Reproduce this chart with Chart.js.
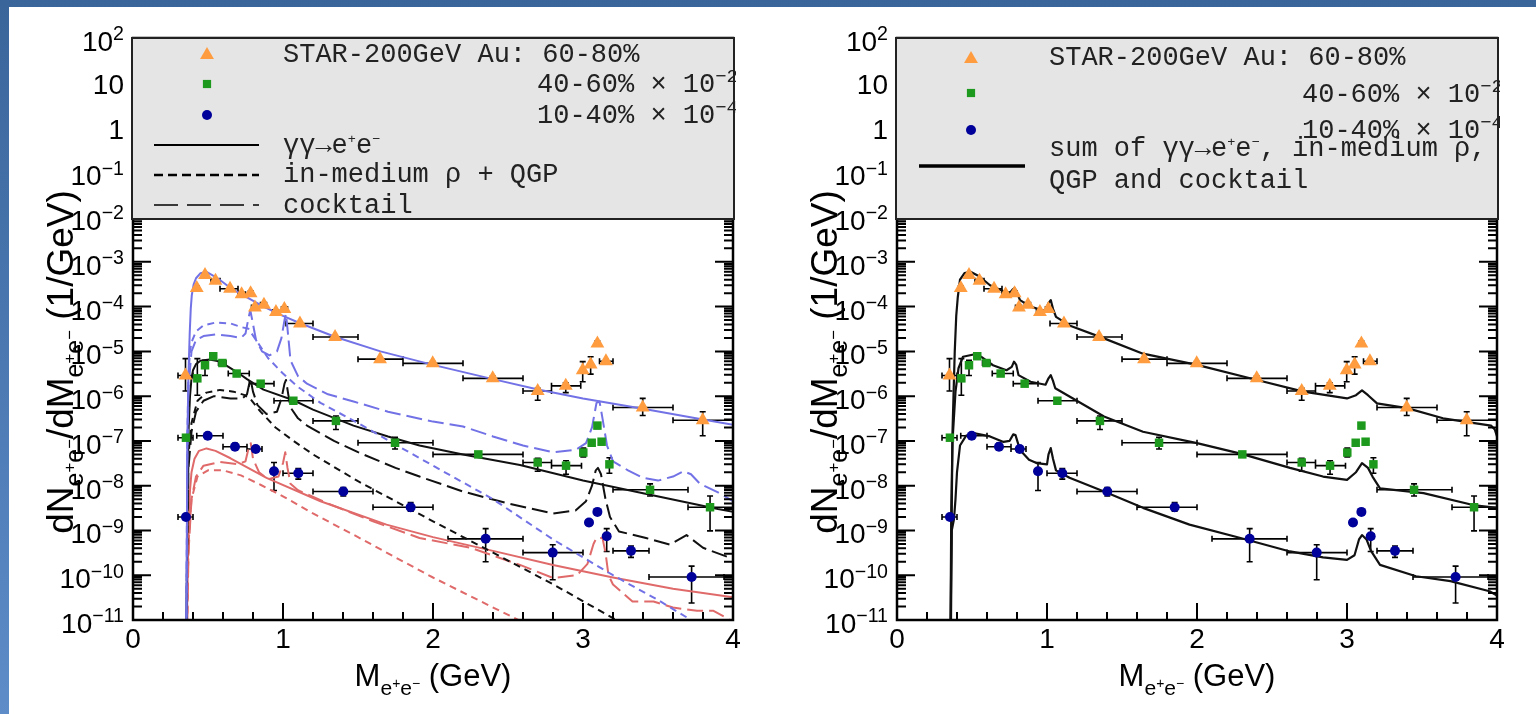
<!DOCTYPE html>
<html>
<head>
<meta charset="utf-8">
<script src="https://cdn.jsdelivr.net/npm/chart.js@4.4.1/dist/chart.umd.min.js"></script>
<style>
  html, body { margin: 0; width: 1536px; height: 714px; overflow: hidden; }
  body { position: relative; background: linear-gradient(to bottom, #3a659b, #5d8cc8); }
  #panel { position: absolute; left: 9px; top: 7px; width: 1527px; height: 707px; background: #fff; }
  canvas { position: absolute; top: 0; }
</style>
</head>
<body>
<div id="panel"></div>
<canvas id="left" width="768" height="714" style="left:0"></canvas>
<canvas id="right" width="768" height="714" style="left:768px"></canvas>
<script>
// ---- STAR 200 GeV Au+Au dielectron points (60-80%, 40-60% x1e-2, 10-40% x1e-4)
var star6080X   = [0.350, 0.425, 0.480, 0.550, 0.647, 0.724, 0.784, 0.813, 0.873, 0.953, 1.009, 1.113, 1.347, 1.647, 1.998, 2.398, 2.698, 2.885, 2.998, 3.051, 3.096, 3.153, 3.398, 3.798];
var star6080Y   = [2.9e-6, 2.6e-4, 5.1e-4, 3.8e-4, 2.5e-4, 1.9e-4, 2.0e-4, 9.6e-5, 1.1e-4, 7.6e-5, 8.9e-5, 4.2e-5, 2.1e-5, 6.7e-6, 5.4e-6, 2.5e-6, 1.3e-6, 1.7e-6, 3.8e-6, 5.1e-6, 1.5e-5, 6.0e-6, 5.6e-7, 2.9e-7];
var star6080XLo = [0.30, 0.41, 0.46, 0.52, 0.58, 0.70, 0.77, 0.79, 0.85, 0.93, 0.99, 1.02, 1.20, 1.50, 1.80, 2.20, 2.60, 2.79, 2.985, 3.04, 3.09, 3.11, 3.20, 3.60];
var star6080XHi = [0.40, 0.44, 0.50, 0.58, 0.70, 0.75, 0.80, 0.83, 0.89, 0.97, 1.03, 1.20, 1.50, 1.80, 2.20, 2.60, 2.79, 2.985, 3.01, 3.06, 3.10, 3.20, 3.60, 4.00];
var star6080YLo = [1.3e-6, 2.3e-4, 4.7e-4, 3.5e-4, 2.3e-4, 1.7e-4, 1.8e-4, 8.6e-5, 1.0e-4, 6.9e-5, 8.1e-5, 3.8e-5, 1.9e-5, 6.1e-6, 4.9e-6, 2.2e-6, 8.1e-7, 1.2e-6, 2.1e-6, 3.1e-6, 1.3e-5, 5.4e-6, 3.7e-7, 1.3e-7];
var star6080YHi = [6.9e-6, 2.9e-4, 5.5e-4, 4.1e-4, 2.7e-4, 2.1e-4, 2.2e-4, 1.06e-4, 1.2e-4, 8.3e-5, 9.7e-5, 4.6e-5, 2.3e-5, 7.3e-6, 5.9e-6, 2.8e-6, 1.5e-6, 2.0e-6, 5.9e-6, 7.6e-6, 1.7e-5, 6.6e-6, 8.9e-7, 4.5e-7];

var star4060X   = [0.353, 0.429, 0.480, 0.535, 0.596, 0.691, 0.851, 1.069, 1.353, 1.747, 2.302, 2.698, 2.887, 3.002, 3.058, 3.096, 3.124, 3.176, 3.447, 3.847];
var star4060Y   = [1.18e-7, 2.5e-6, 4.9e-6, 7.8e-6, 5.5e-6, 3.2e-6, 1.9e-6, 7.9e-7, 2.8e-7, 9.1e-8, 5.0e-8, 3.3e-8, 2.8e-8, 5.5e-8, 9.1e-8, 2.2e-7, 9.6e-8, 3.0e-8, 8.1e-9, 3.3e-9];
var star4060XLo = [0.30, 0.41, 0.46, 0.52, 0.57, 0.635, 0.775, 0.94, 1.20, 1.50, 2.00, 2.60, 2.79, 2.99, 3.05, 3.09, 3.115, 3.17, 3.20, 3.70];
var star4060XHi = [0.40, 0.44, 0.50, 0.55, 0.62, 0.775, 0.94, 1.20, 1.50, 2.00, 2.60, 2.79, 2.99, 3.01, 3.07, 3.10, 3.13, 3.19, 3.70, 4.00];
var star4060YLo = [1.05e-7, 1.05e-6, 2.9e-6, 7.0e-6, 4.8e-6, 2.9e-6, 1.7e-6, 7.1e-7, 1.8e-7, 6.6e-8, 4.4e-8, 2.1e-8, 1.8e-8, 4.4e-8, 7.9e-8, 1.9e-7, 8.3e-8, 1.9e-8, 5.9e-9, 9.8e-10];
var star4060YHi = [1.3e-7, 6.9e-6, 6.3e-6, 8.6e-6, 6.2e-6, 3.6e-6, 2.1e-6, 8.7e-7, 3.6e-7, 1.2e-7, 5.6e-8, 4.1e-8, 3.6e-8, 6.9e-8, 1.05e-7, 2.5e-7, 1.1e-7, 4.2e-8, 1.1e-8, 5.9e-9];

var star1040X   = [0.353, 0.498, 0.680, 0.818, 0.940, 1.102, 1.402, 1.851, 2.351, 2.798, 3.040, 3.096, 3.158, 3.320, 3.724];
var star1040Y   = [2.0e-9, 1.3e-7, 7.4e-8, 6.6e-8, 2.1e-8, 1.9e-8, 7.4e-9, 3.3e-9, 6.5e-10, 3.2e-10, 1.5e-9, 2.6e-9, 7.4e-10, 3.5e-10, 9.1e-11];
var star1040XLo = [0.30, 0.425, 0.60, 0.76, 0.92, 1.00, 1.20, 1.60, 2.10, 2.60, 3.02, 3.09, 3.14, 3.20, 3.44];
var star1040XHi = [0.40, 0.60, 0.76, 0.86, 0.96, 1.20, 1.60, 2.00, 2.60, 3.00, 3.06, 3.10, 3.18, 3.44, 3.94];
var star1040YLo = [1.7e-9, 1.15e-7, 6.2e-8, 5.6e-8, 7.8e-9, 1.4e-8, 5.9e-9, 2.7e-9, 2.0e-10, 7.9e-11, 1.3e-9, 2.3e-9, 3.4e-10, 2.5e-10, 2.4e-11];
var star1040YHi = [2.3e-9, 1.45e-7, 8.9e-8, 7.6e-8, 3.3e-8, 2.4e-8, 9.1e-9, 4.2e-9, 1.1e-9, 4.8e-10, 1.7e-9, 2.9e-9, 1.1e-9, 4.5e-10, 1.6e-10];

// ---- model curves, left panel
var gg6080X = [0.355, 0.362, 0.370, 0.378, 0.385, 0.392, 0.405, 0.42, 0.45, 0.49, 0.56, 0.65, 0.76, 0.87, 1.0, 1.11, 1.35, 1.65, 2.0, 2.4, 2.7, 3.0, 3.4, 3.8, 4.0];
var gg6080Y = [1e-12, 1e-7, 3.2e-6, 2.5e-5, 8.9e-5, 1.8e-4, 3.2e-4, 4.3e-4, 5.6e-4, 6.0e-4, 4.4e-4, 2.6e-4, 1.6e-4, 1.0e-4, 6.2e-5, 4.3e-5, 2.1e-5, 1.0e-5, 5.0e-6, 2.4e-6, 1.41e-6, 8.9e-7, 5.25e-7, 3.0e-7, 2.3e-7];
var rho6080X = [0.355, 0.362, 0.37, 0.38, 0.39, 0.42, 0.47, 0.55, 0.65, 0.72, 0.77, 0.82, 0.9, 1.0, 1.1, 1.25, 1.5, 1.75, 2.0, 2.4, 2.8, 3.2, 3.5, 3.7, 3.85];
var rho6080Y = [1e-12, 1e-7, 3.2e-6, 1.0e-5, 1.6e-5, 2.8e-5, 3.8e-5, 4.4e-5, 4.2e-5, 3.5e-5, 3.2e-5, 1.8e-5, 7.1e-6, 3.2e-6, 1.6e-6, 7.1e-7, 2.5e-7, 8.3e-8, 2.8e-8, 5.0e-9, 6.3e-10, 1.0e-10, 2.8e-11, 1.1e-11, 5.0e-12];
var ckt6080X = [0.355, 0.362, 0.37, 0.39, 0.42, 0.47, 0.55, 0.65, 0.72, 0.75, 0.77, 0.782, 0.795, 0.82, 0.86, 0.91, 0.96, 0.99, 1.01, 1.02, 1.03, 1.05, 1.1, 1.16, 1.3, 1.47, 1.7, 2.0, 2.2, 2.4, 2.6, 2.8, 2.95, 3.02, 3.06, 3.09, 3.11, 3.13, 3.16, 3.2, 3.3, 3.4, 3.5, 3.6, 3.67, 3.72, 3.78, 3.9, 4.0];
var ckt6080Y = [1e-12, 3.2e-8, 1.6e-6, 1.0e-5, 1.8e-5, 2.2e-5, 2.4e-5, 2.2e-5, 2.0e-5, 2.5e-5, 5.6e-5, 8.3e-5, 5.0e-5, 1.8e-5, 1.0e-5, 8.1e-6, 1.0e-5, 2.0e-5, 5.0e-5, 6.9e-5, 3.2e-5, 6.3e-6, 2.8e-6, 1.9e-6, 1.1e-6, 7.6e-7, 4.5e-7, 2.7e-7, 2.1e-7, 1.26e-7, 7.9e-8, 5.6e-8, 6.3e-8, 8.9e-8, 2.0e-7, 7.1e-7, 7.6e-7, 3.2e-7, 7.9e-8, 3.5e-8, 2.2e-8, 1.5e-8, 1.3e-8, 1.6e-8, 2.1e-8, 1.8e-8, 1.1e-8, 7.1e-9, 4.5e-9];

var gg4060X = [0.355, 0.362, 0.37, 0.38, 0.39, 0.40, 0.42, 0.45, 0.51, 0.58, 0.69, 0.76, 0.87, 1.07, 1.2, 1.47, 1.7, 1.91, 2.2, 2.58, 3.0, 3.4, 3.9, 4.0];
var gg4060Y = [1e-12, 3.2e-9, 1.6e-7, 1.0e-6, 2.5e-6, 3.8e-6, 5.2e-6, 6.2e-6, 6.6e-6, 5.9e-6, 3.5e-6, 2.4e-6, 1.4e-6, 8.1e-7, 5.0e-7, 2.2e-7, 1.26e-7, 7.9e-8, 5.0e-8, 2.9e-8, 1.3e-8, 6.8e-9, 3.0e-9, 2.6e-9];
var rho4060X = [0.355, 0.362, 0.37, 0.39, 0.43, 0.49, 0.58, 0.67, 0.74, 0.78, 0.85, 0.95, 1.07, 1.2, 1.5, 2.0, 2.4, 2.8, 3.2, 3.35];
var rho4060Y = [1e-12, 1e-9, 5.0e-8, 2.5e-7, 7.9e-7, 1.2e-6, 1.38e-6, 1.26e-6, 1.07e-6, 8.9e-7, 4.5e-7, 2.0e-7, 1.0e-7, 5.0e-8, 1.26e-8, 1.6e-9, 3.2e-10, 6.3e-11, 1.1e-11, 5.6e-12];
var ckt4060X = [0.355, 0.362, 0.37, 0.39, 0.42, 0.47, 0.54, 0.65, 0.73, 0.76, 0.775, 0.785, 0.80, 0.83, 0.89, 0.96, 0.99, 1.01, 1.02, 1.035, 1.05, 1.1, 1.16, 1.34, 1.5, 1.75, 1.91, 2.2, 2.49, 2.8, 2.95, 3.02, 3.06, 3.085, 3.1, 3.12, 3.15, 3.18, 3.24, 3.42, 3.58, 3.69, 3.8, 3.96, 4.0];
var ckt4060Y = [1e-12, 1e-9, 2.5e-8, 1.6e-7, 4.5e-7, 7.9e-7, 1.0e-6, 8.9e-7, 8.9e-7, 1.1e-6, 1.9e-6, 2.3e-6, 1.26e-6, 6.3e-7, 4.0e-7, 4.5e-7, 8.9e-7, 1.9e-6, 2.3e-6, 1.1e-6, 5.6e-7, 3.2e-7, 2.2e-7, 1.0e-7, 5.6e-8, 2.5e-8, 1.6e-8, 7.4e-9, 4.1e-9, 2.4e-9, 2.8e-9, 4.5e-9, 1.0e-8, 2.2e-8, 2.5e-8, 1.8e-8, 5.0e-9, 2.0e-9, 9.5e-10, 6.8e-10, 4.8e-10, 7.9e-10, 4.1e-10, 2.6e-10, 2.5e-10];

var gg1040X = [0.355, 0.362, 0.37, 0.38, 0.39, 0.41, 0.44, 0.49, 0.55, 0.65, 0.89, 1.25, 1.69, 2.0, 2.4, 2.8, 3.2, 3.6, 4.0];
var gg1040Y = [1e-13, 3.2e-11, 1e-9, 7.9e-9, 2.0e-8, 4.0e-8, 6.0e-8, 6.8e-8, 6.0e-8, 4.1e-8, 1.5e-8, 4.5e-9, 1.35e-9, 7.1e-10, 3.5e-10, 1.7e-10, 8.9e-11, 5.0e-11, 3.2e-11];
var rho1040X = [0.355, 0.362, 0.37, 0.39, 0.43, 0.5, 0.6, 0.72, 0.85, 0.98, 1.2, 1.5, 1.75, 2.0, 2.3, 2.6, 2.7];
var rho1040Y = [1e-13, 1e-11, 5.0e-10, 5.0e-9, 1.6e-8, 2.2e-8, 2.2e-8, 1.7e-8, 1.05e-8, 6.3e-9, 2.4e-9, 7.1e-10, 2.5e-10, 8.9e-11, 2.8e-11, 8.9e-12, 6.3e-12];
var ckt1040X = [0.355, 0.362, 0.37, 0.39, 0.42, 0.47, 0.58, 0.7, 0.75, 0.775, 0.785, 0.8, 0.84, 0.9, 0.97, 1.0, 1.015, 1.03, 1.05, 1.1, 1.3, 1.6, 1.91, 2.25, 2.58, 2.8, 2.96, 3.03, 3.07, 3.09, 3.13, 3.15, 3.17, 3.2, 3.33, 3.47, 3.6, 3.76, 3.87, 3.96, 4.0];
var ckt1040Y = [1e-13, 1e-11, 3.2e-10, 5.0e-9, 1.6e-8, 2.8e-8, 3.4e-8, 3.0e-8, 3.5e-8, 7.9e-8, 8.9e-8, 4.0e-8, 2.0e-8, 1.4e-8, 1.6e-8, 3.2e-8, 5.6e-8, 2.5e-8, 1.1e-8, 7.9e-9, 4.0e-9, 1.6e-9, 6.8e-10, 4.1e-10, 1.7e-10, 8.7e-11, 1.0e-10, 1.8e-10, 5.0e-10, 6.8e-10, 6.8e-10, 3.2e-10, 1.0e-10, 6.2e-11, 2.6e-11, 2.6e-11, 1.9e-11, 1.6e-11, 1.6e-11, 1.1e-11, 8.9e-12];

// ---- summed model, right panel
var sum6080X = [0.355, 0.37, 0.385, 0.395, 0.405, 0.42, 0.45, 0.49, 0.55, 0.62, 0.71, 0.75, 0.77, 0.783, 0.797, 0.82, 0.89, 0.99, 1.01, 1.025, 1.04, 1.06, 1.15, 1.38, 1.64, 2.0, 2.4, 2.71, 3.0, 3.06, 3.1, 3.14, 3.2, 3.4, 3.64, 3.96, 3.985, 4.0];
var sum6080Y = [1e-12, 1.6e-7, 1.0e-5, 6.3e-5, 1.6e-4, 4.0e-4, 5.6e-4, 6.0e-4, 4.7e-4, 3.0e-4, 2.2e-4, 2.0e-4, 2.4e-4, 2.6e-4, 2.2e-4, 1.4e-4, 1.0e-4, 7.9e-5, 1.2e-4, 1.4e-4, 8.9e-5, 5.9e-5, 3.8e-5, 1.95e-5, 8.9e-6, 5.0e-6, 2.3e-6, 1.26e-6, 8.9e-7, 1.05e-6, 1.35e-6, 1.05e-6, 6.9e-7, 5.4e-7, 3.2e-7, 2.2e-7, 1.8e-7, 1.26e-7];
var sum4060X = [0.355, 0.362, 0.37, 0.39, 0.41, 0.44, 0.51, 0.56, 0.64, 0.73, 0.765, 0.78, 0.795, 0.81, 0.89, 0.99, 1.01, 1.025, 1.04, 1.055, 1.15, 1.38, 1.64, 2.0, 2.29, 2.62, 2.84, 3.0, 3.06, 3.1, 3.14, 3.17, 3.22, 3.51, 3.84, 4.0];
var sum4060Y = [1e-12, 3.2e-9, 1e-7, 1.26e-6, 4.2e-6, 7.6e-6, 8.5e-6, 7.6e-6, 4.9e-6, 3.8e-6, 4.5e-6, 5.9e-6, 5.0e-6, 2.95e-6, 2.1e-6, 1.8e-6, 2.5e-6, 2.95e-6, 2.2e-6, 1.5e-6, 9.8e-7, 3.5e-7, 1.6e-7, 8.9e-8, 5.2e-8, 2.5e-8, 1.6e-8, 1.35e-8, 2.0e-8, 3.2e-8, 2.5e-8, 1.6e-8, 8.7e-9, 6.8e-9, 3.7e-9, 3.2e-9];
var sum1040X = [0.355, 0.365, 0.38, 0.39, 0.40, 0.42, 0.46, 0.51, 0.62, 0.71, 0.75, 0.775, 0.79, 0.82, 0.88, 0.93, 1.0, 1.01, 1.025, 1.04, 1.06, 1.15, 1.38, 1.64, 1.95, 2.29, 2.62, 2.84, 3.0, 3.05, 3.08, 3.1, 3.13, 3.16, 3.22, 3.46, 3.69, 3.95, 4.0];
var sum1040Y = [1e-13, 1e-9, 1.8e-9, 5.0e-9, 2.0e-8, 7.9e-8, 1.3e-7, 1.5e-7, 1.26e-7, 9.5e-8, 1.0e-7, 1.4e-7, 1.35e-7, 6.3e-8, 3.8e-8, 3.2e-8, 3.0e-8, 5.0e-8, 6.9e-8, 4.0e-8, 2.2e-8, 1.5e-8, 7.4e-9, 3.2e-9, 1.35e-9, 6.8e-10, 3.4e-10, 2.5e-10, 2.2e-10, 2.8e-10, 6.3e-10, 7.9e-10, 6.3e-10, 3.5e-10, 1.7e-10, 9.5e-11, 7.4e-11, 4.4e-11, 3.5e-11];

// ---- axis ticks
var xTickValues = [0, 1, 2, 3, 4];
var xTickLabels = ['0', '1', '2', '3', '4'];
var yTickValues = [1e2, 1e1, 1, 1e-1, 1e-2, 1e-3, 1e-4, 1e-5, 1e-6, 1e-7, 1e-8, 1e-9, 1e-10, 1e-11];
var yTickBase   = ['10', '10', '1', '10', '10', '10', '10', '10', '10', '10', '10', '10', '10', '10'];
var yTickPower  = ['2', '', '', '\u22121', '\u22122', '\u22123', '\u22124', '\u22125', '\u22126', '\u22127', '\u22128', '\u22129', '\u221210', '\u221211'];

var ORANGE = '#ff9c3f', GREEN = '#1d9a1d', NAVY = '#00009a';
var BLUE = '#7272e6', RED = '#e06a6a', BLACK = '#111';
var SHORT = [7, 5], LONG = [16, 6];
var AXIS_FONT = '"Liberation Sans", Arial, sans-serif';
var MONO_FONT = '"Liberation Mono", "Courier New", monospace';

// size factor and baseline shift for: normal, sup, sub, sup-in-sub, small sup
var LEVELS = [[1, 0], [0.7, -0.38], [0.68, 0.28], [0.45, 0.06], [0.5, -0.36]];

function drawRich(ctx, parts, x, y, size, family, align) {
  var w = 0;
  parts.forEach(function (p) {
    ctx.font = (size * LEVELS[p[1]][0]) + 'px ' + family;
    w += ctx.measureText(p[0]).width;
  });
  var cx = align === 'center' ? x - w / 2 : (align === 'right' ? x - w : x);
  ctx.textAlign = 'left';
  ctx.textBaseline = 'alphabetic';
  parts.forEach(function (p) {
    var lv = LEVELS[p[1]];
    ctx.font = (size * lv[0]) + 'px ' + family;
    ctx.fillText(p[0], cx, y + size * lv[1]);
    cx += ctx.measureText(p[0]).width;
  });
  return w;
}

function marker(ctx, style, x, y, r, color) {
  ctx.fillStyle = color;
  ctx.beginPath();
  if (style === 'triangle') {
    ctx.moveTo(x, y - r);
    ctx.lineTo(x + r * 0.866, y + r * 0.5);
    ctx.lineTo(x - r * 0.866, y + r * 0.5);
    ctx.closePath();
  } else if (style === 'rect') {
    var s = r * 0.707;
    ctx.rect(x - s, y - s, 2 * s, 2 * s);
  } else {
    ctx.arc(x, y, r, 0, Math.PI * 2);
  }
  ctx.fill();
}

function sample(ctx, x0, x1, y, dash, width) {
  ctx.save();
  ctx.strokeStyle = '#000';
  ctx.lineWidth = width;
  ctx.setLineDash(dash);
  ctx.beginPath();
  ctx.moveTo(x0, y);
  ctx.lineTo(x1, y);
  ctx.stroke();
  ctx.restore();
}

function legendBox(ctx, x0, y0, x1, y1) {
  ctx.fillStyle = '#e5e5e5';
  ctx.fillRect(x0, y0, x1 - x0, y1 - y0);
  ctx.strokeStyle = '#222';
  ctx.lineWidth = 2;
  ctx.strokeRect(x0, y0, x1 - x0, y1 - y0);
}

function legendLeft(ctx) {
  legendBox(ctx, 132, 38, 734, 219);
  ctx.save();
  ctx.beginPath();
  ctx.rect(132, 38, 604, 181);
  ctx.clip();
  marker(ctx, 'triangle', 207, 55, 8, ORANGE);
  marker(ctx, 'rect', 207, 84, 5.8, GREEN);
  marker(ctx, 'circle', 207, 115, 5, NAVY);
  ctx.fillStyle = '#222';
  drawRich(ctx, [['STAR-200GeV Au: 60-80%', 0]], 283, 62, 27, MONO_FONT);
  drawRich(ctx, [['40-60% \u00d7 10', 0], ['\u22122', 1]], 537, 92, 27, MONO_FONT);
  drawRich(ctx, [['10-40% \u00d7 10', 0], ['\u22124', 1]], 537, 123, 27, MONO_FONT);
  drawRich(ctx, [['\u03b3\u03b3\u2192e', 0], ['+', 4], ['e', 0], ['\u2212', 4]], 283, 153, 27, MONO_FONT);
  drawRich(ctx, [['in-medium \u03c1 + QGP', 0]], 283, 182, 27, MONO_FONT);
  drawRich(ctx, [['cocktail', 0]], 283, 213, 27, MONO_FONT);
  sample(ctx, 154, 259, 145, [], 2);
  sample(ctx, 154, 259, 175, [9, 5], 2.5);
  sample(ctx, 154, 259, 205, [24, 9], 1.6);
  ctx.restore();
}

function legendRight(ctx) {
  legendBox(ctx, 896, 38, 1498, 219);
  ctx.save();
  ctx.beginPath();
  ctx.rect(896, 38, 604, 181);
  ctx.clip();
  marker(ctx, 'triangle', 971, 59, 8, ORANGE);
  marker(ctx, 'rect', 971, 93, 5.8, GREEN);
  marker(ctx, 'circle', 971, 130, 5, NAVY);
  ctx.fillStyle = '#222';
  drawRich(ctx, [['STAR-200GeV Au: 60-80%', 0]], 1049, 65, 27, MONO_FONT);
  drawRich(ctx, [['40-60% \u00d7 10', 0], ['\u22122', 1]], 1302, 102, 27, MONO_FONT);
  drawRich(ctx, [['10-40% \u00d7 10', 0], ['\u22124', 1]], 1302, 138, 27, MONO_FONT);
  drawRich(ctx, [['sum of \u03b3\u03b3\u2192e', 0], ['+', 4], ['e', 0], ['\u2212', 4], [', in-medium \u03c1,', 0]], 1049, 156, 27, MONO_FONT);
  drawRich(ctx, [['QGP and cocktail', 0]], 1049, 188, 27, MONO_FONT);
  sample(ctx, 919, 1025, 166, [], 3.5);
  ctx.restore();
}

function drawErrorBars(chart) {
  var ctx = chart.ctx, xs = chart.scales.x, ys = chart.scales.y;
  ctx.save();
  ctx.strokeStyle = '#000';
  ctx.lineWidth = 1.6;
  ctx.beginPath();
  chart.data.datasets.forEach(function (ds) {
    if (!ds.xLo) return;
    ds.data.forEach(function (p, i) {
      var px = xs.getPixelForValue(p.x), py = ys.getPixelForValue(p.y);
      var x0 = xs.getPixelForValue(ds.xLo[i]), x1 = xs.getPixelForValue(ds.xHi[i]);
      var y0 = ys.getPixelForValue(ds.yLo[i]), y1 = ys.getPixelForValue(ds.yHi[i]);
      ctx.moveTo(x0, py); ctx.lineTo(x1, py);
      ctx.moveTo(x0, py - 3); ctx.lineTo(x0, py + 3);
      ctx.moveTo(x1, py - 3); ctx.lineTo(x1, py + 3);
      ctx.moveTo(px, y0); ctx.lineTo(px, y1);
      ctx.moveTo(px - 3, y0); ctx.lineTo(px + 3, y0);
      ctx.moveTo(px - 3, y1); ctx.lineTo(px + 3, y1);
    });
  });
  ctx.stroke();
  ctx.restore();
}

// ROOT-like frame: inward ticks on bottom/left/right
function drawFrame(chart) {
  var ctx = chart.ctx, a = chart.chartArea, xs = chart.scales.x, ys = chart.scales.y;
  ctx.save();
  ctx.strokeStyle = '#000';
  ctx.lineWidth = 2;
  ctx.beginPath();
  for (var i = 0; i <= 20; i++) {
    var px = xs.getPixelForValue(i * 0.2);
    var len = i % 5 === 0 ? 17 : 8;
    ctx.moveTo(px, a.bottom); ctx.lineTo(px, a.bottom - len);
  }
  for (var e = -11; e <= 2; e++) {
    for (var m = 1; m <= 9; m++) {
      var v = m * Math.pow(10, e);
      if (v > 100) break;
      var py = ys.getPixelForValue(v);
      var l = m === 1 ? 18 : 9;
      ctx.moveTo(a.left, py); ctx.lineTo(a.left + l, py);
      ctx.moveTo(a.right, py); ctx.lineTo(a.right - l, py);
    }
  }
  ctx.stroke();
  ctx.lineWidth = 2.5;
  ctx.strokeRect(a.left, a.top, a.right - a.left, a.bottom - a.top);
  ctx.restore();
}

function drawLabels(chart) {
  var ctx = chart.ctx, a = chart.chartArea, xs = chart.scales.x, ys = chart.scales.y;
  ctx.save();
  ctx.fillStyle = '#000';
  xTickValues.forEach(function (v, i) {
    drawRich(ctx, [[xTickLabels[i], 0]], xs.getPixelForValue(v), a.bottom + 28, 28, AXIS_FONT, 'center');
  });
  yTickValues.forEach(function (v, i) {
    var py = ys.getPixelForValue(v);
    var parts = [[yTickBase[i], 0]];
    if (yTickPower[i]) parts.push([yTickPower[i], 1]);
    drawRich(ctx, parts, a.left - 9, py + (yTickPower[i] ? 13 : 11), 28, AXIS_FONT, 'right');
  });
  var xt = [['M', 0], ['e', 2], ['+', 3], ['e', 2], ['\u2212', 3], [' (GeV)', 0]];
  drawRich(ctx, xt, (a.left + a.right) / 2, a.bottom + 66, 31, AXIS_FONT, 'center');
  var yt = [['dN', 0], ['e', 2], ['+', 3], ['e', 2], ['\u2212', 3], ['/dM', 0], ['e', 2], ['+', 3], ['e', 2], ['\u2212', 3], [' (1/GeV)', 0]];
  ctx.translate(a.left - 60, 362);
  ctx.rotate(-Math.PI / 2);
  drawRich(ctx, yt, 0, 0, 37, AXIS_FONT, 'center');
  ctx.restore();
}

function rootFrame(offset, legend) {
  return {
    id: 'rootFrame',
    beforeDatasetsDraw: function (chart) { drawErrorBars(chart); },
    afterDatasetsDraw: function (chart) {
      drawFrame(chart);
      var ctx = chart.ctx;
      ctx.save();
      ctx.translate(-offset, 0);
      legend(ctx);
      ctx.restore();
      drawLabels(chart);
    }
  };
}

function pairs(xs, ys) {
  return xs.map(function (v, i) { return { x: v, y: ys[i] }; });
}

function points(xs, ys, xLo, xHi, yLo, yHi, style, r, color) {
  return {
    data: pairs(xs, ys), xLo: xLo, xHi: xHi, yLo: yLo, yHi: yHi,
    pointStyle: style, pointRadius: r, pointBackgroundColor: color,
    pointBorderWidth: 0, borderWidth: 0, showLine: false
  };
}

function curve(xs, ys, color, dash, width) {
  return {
    data: pairs(xs, ys), showLine: true, pointRadius: 0,
    borderColor: color, borderWidth: width || 2, borderDash: dash || [],
    borderJoinStyle: 'round', fill: false, tension: 0
  };
}

function dataPoints() {
  return [
    points(star6080X, star6080Y, star6080XLo, star6080XHi, star6080YLo, star6080YHi, 'triangle', 8, ORANGE),
    points(star4060X, star4060Y, star4060XLo, star4060XHi, star4060YLo, star4060YHi, 'rect', 6, GREEN),
    points(star1040X, star1040Y, star1040XLo, star1040XHi, star1040YLo, star1040YHi, 'circle', 5, NAVY)
  ];
}

function makeChart(id, datasets, pad, offset, legend) {
  return new Chart(document.getElementById(id), {
    type: 'scatter',
    data: { datasets: datasets },
    options: {
      responsive: false,
      animation: false,
      events: [],
      devicePixelRatio: 1,
      layout: { padding: pad },
      plugins: { legend: { display: false }, tooltip: { enabled: false } },
      scales: {
        x: { type: 'linear', min: 0, max: 4, display: false },
        y: { type: 'logarithmic', min: 1e-11, max: 100, display: false }
      }
    },
    plugins: [rootFrame(offset, legend)]
  });
}

var leftSets = dataPoints().concat([
  curve(gg6080X, gg6080Y, BLUE),
  curve(rho6080X, rho6080Y, BLUE, SHORT),
  curve(ckt6080X, ckt6080Y, BLUE, LONG),
  curve(gg4060X, gg4060Y, BLACK),
  curve(rho4060X, rho4060Y, BLACK, SHORT),
  curve(ckt4060X, ckt4060Y, BLACK, LONG),
  curve(gg1040X, gg1040Y, RED),
  curve(rho1040X, rho1040Y, RED, SHORT),
  curve(ckt1040X, ckt1040Y, RED, LONG)
]);

var rightSets = dataPoints().concat([
  curve(sum6080X, sum6080Y, BLACK, [], 2.2),
  curve(sum4060X, sum4060Y, BLACK, [], 2.2),
  curve(sum1040X, sum1040Y, BLACK, [], 2.2)
]);

makeChart('left', leftSets, { left: 133, right: 35, top: 38, bottom: 94 }, 0, legendLeft);
makeChart('right', rightSets, { left: 129, right: 39, top: 38, bottom: 94 }, 768, legendRight);
</script>
</body>
</html>
